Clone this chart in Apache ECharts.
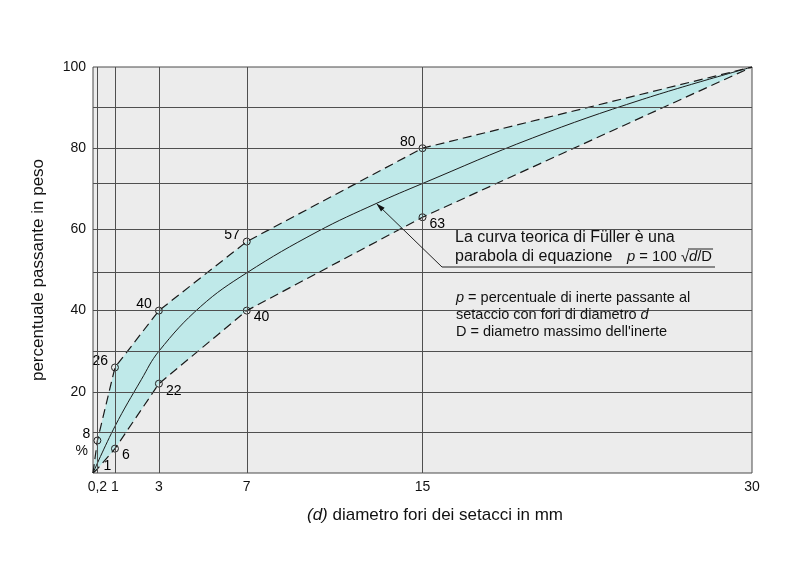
<!DOCTYPE html>
<html><head><meta charset="utf-8">
<script src="https://cdn.jsdelivr.net/npm/echarts@6/dist/echarts.min.js"></script>
<style>html,body{margin:0;background:#fff}#c{width:800px;height:566px}</style>
</head><body><div id="c"></div>
<script>
// ---- data ----
const xTicks = [0.2, 1, 3, 7, 15, 30];
const yTicks = [20, 40, 60, 80, 100];
const gridX = [0.2, 1, 3, 7, 15];
const gridY = [10, 20, 30, 40, 49.4, 60, 71.3, 80, 90];
const upperD = [0, 0.2, 1, 3, 7, 15, 30];
const upperP = [0, 8, 26, 40, 57, 80, 100];
const lowerD = [0, 0.2, 1, 3, 7, 15, 30];
const lowerP = [0, 1, 6, 22, 40, 63, 100];
const fullerD = [0, 1, 2.2, 3, 4.9, 7, 10.2, 12.9, 15, 20, 25, 30];
const fullerP = [0, 11.5, 23, 30, 41, 49.3, 59.4, 66.4, 71.3, 82.5, 92, 100];
const upperMarked = [1, 2, 3, 4, 5];   // indices of upper points with circle markers
const lowerMarked = [2, 3, 4, 5];      // indices of lower points with circle markers
const lowerLabelOnly = [1];            // index of lower point labelled without marker
const arrowTarget = [12.9, 66.4];      // point on Fuller curve where the arrow ends

const FONT = '"Liberation Sans", Arial, sans-serif';
const chart = echarts.init(document.getElementById('c'), null, {renderer: 'canvas'});

const pairs = (xs, ys) => xs.map((x, i) => [x, ys[i]]);
const dashed = {color: '#1a1a1a', width: 1.2, type: [9, 5]};
const lbl = (pos, dist, off) => ({show: true, position: pos, distance: dist, offset: off,
  fontSize: 14, color: '#000', opacity: 1, fontFamily: FONT, textBorderWidth: 0,
  formatter: p => p.value[1]});

chart.setOption({
  animation: false,
  backgroundColor: '#ffffff',
  textStyle: {fontFamily: FONT, color: '#111'},
  grid: {left: 93, right: 48, top: 67, bottom: 93, show: true,
         backgroundColor: '#ececec', borderColor: '#4a4a4a', borderWidth: 1},
  xAxis: {
    type: 'value', min: 0, max: 30,
    axisLine: {show: false}, axisTick: {show: false}, splitLine: {show: false},
    axisLabel: {customValues: xTicks, fontSize: 14, color: '#111', margin: 7,
      fontFamily: FONT, formatter: v => String(v).replace('.', ',')},
    name: '{i|(d)} diametro fori dei setacci in mm',
    nameLocation: 'middle', nameGap: 34,
    nameTextStyle: {fontSize: 17, color: '#111', fontFamily: FONT, padding: [0, 0, 0, 25],
      rich: {i: {fontStyle: 'italic', fontSize: 17, fontFamily: FONT, color: '#111'}}}
  },
  yAxis: {
    type: 'value', min: 0, max: 100,
    axisLine: {show: false}, axisTick: {show: false}, splitLine: {show: false},
    axisLabel: {customValues: yTicks, fontSize: 14, color: '#111', margin: 7, fontFamily: FONT},
    name: 'percentuale passante in peso',
    nameLocation: 'middle', nameGap: 46,
    nameTextStyle: {fontSize: 17, color: '#111', fontFamily: FONT}
  },
  series: [
    {
      type: 'custom', z: 1, silent: true,
      data: [[0, 0]],
      renderItem: (params, api) => {
        if (params.dataIndex !== 0) return;
        const pts = upperD.map((d, i) => api.coord([d, upperP[i]]));
        for (let i = lowerD.length - 1; i >= 0; i--) pts.push(api.coord([lowerD[i], lowerP[i]]));
        return {type: 'polygon', shape: {points: pts}, style: {fill: '#bfe9e9'}};
      }
    },
    {
      type: 'line', z: 2, silent: true, data: [[0, 0]], symbol: 'none',
      lineStyle: {opacity: 0},
      markLine: {
        symbol: 'none', silent: true, label: {show: false},
        lineStyle: {color: '#4f4f4f', width: 1, type: 'solid'},
        data: [...gridX.map(v => ({xAxis: v})), ...gridY.map(v => ({yAxis: v}))]
      }
    },
    {type: 'line', z: 3, data: pairs(upperD, upperP), symbol: 'none', lineStyle: dashed, silent: true},
    {type: 'line', z: 3, data: pairs(lowerD, lowerP), symbol: 'none', lineStyle: dashed, silent: true},
    {type: 'line', z: 3, data: pairs(fullerD, fullerP), symbol: 'none', smooth: 0.4,
     lineStyle: {color: '#1a1a1a', width: 1}, silent: true},
    {
      type: 'scatter', z: 4, silent: true,
      data: upperMarked.map(i => [upperD[i], upperP[i]]),
      symbol: 'circle', symbolSize: 7,
      itemStyle: {color: 'rgba(0,0,0,0)', borderColor: '#222', borderWidth: 1, opacity: 1},
      label: lbl('left', 3, [0, -6])
    },
    {
      type: 'scatter', z: 4, silent: true,
      data: lowerMarked.map(i => [lowerD[i], lowerP[i]]),
      symbol: 'circle', symbolSize: 7,
      itemStyle: {color: 'rgba(0,0,0,0)', borderColor: '#222', borderWidth: 1, opacity: 1},
      label: lbl('right', 3, [0, 7])
    },
    {
      type: 'scatter', z: 4, silent: true,
      data: lowerLabelOnly.map(i => [lowerD[i], lowerP[i]]),
      symbolSize: 0,
      label: lbl('right', 6, [0, -3])
    }
  ]
});

// ---- annotations ----
const tip = chart.convertToPixel({gridIndex: 0}, arrowTarget);
const bend = [442, 267];
const dx = tip[0] - bend[0], dy = tip[1] - bend[1];
const len = Math.hypot(dx, dy), ux = dx / len, uy = dy / len;
const bx = tip[0] - ux * 9, by = tip[1] - uy * 9;
const nx = -uy * 2.6, ny = ux * 2.6;
const pctPos = chart.convertToPixel({gridIndex: 0}, [0, 5.4]);

const mctx = document.createElement('canvas').getContext('2d');
const tw = (t, size, italic) => { mctx.font = (italic ? 'italic ' : '') + size + 'px ' + FONT; return mctx.measureText(t).width; };

const txt = (x, y, text, size, rich, italic) => ({
  type: 'text', x: x, y: y, z: 10, silent: true,
  style: {text: text, fontSize: size, fontFamily: FONT, fill: '#111', fontStyle: italic ? 'italic' : 'normal',
          align: 'left', verticalAlign: 'middle', rich: rich || {}}
});
const ital2 = {i: {fontStyle: 'italic', fontSize: 14.5, fontFamily: FONT, fill: '#111'}};

// formula p = 100 √(d/D), laid out piece by piece
const FS = 14.8;
let fx = 627;
const fEls = [];
fEls.push(txt(fx, 257, 'p', FS, null, true)); fx += tw('p', FS, true);
fEls.push(txt(fx, 257, ' = 100 ', FS)); fx += tw(' = 100 ', FS);
fEls.push(txt(fx, 258, '√', FS)); fx += tw('√', FS);
const ovStart = fx;
fEls.push(txt(fx, 257, 'd', FS, null, true)); fx += tw('d', FS, true);
fEls.push(txt(fx, 257, '/D', FS)); fx += tw('/D', FS);
fEls.push({type: 'line', z: 10, silent: true, shape: {x1: ovStart - 1, y1: 249, x2: fx + 1, y2: 249},
  style: {stroke: '#222', lineWidth: 1}});

chart.setOption({
  graphic: [
    {type: 'polyline', z: 10, silent: true,
     shape: {points: [tip, bend, [715, 267]]},
     style: {stroke: '#222', lineWidth: 1, fill: null}},
    {type: 'polygon', z: 10, silent: true,
     shape: {points: [tip, [bx + nx, by + ny], [bx - nx, by - ny]]},
     style: {fill: '#111'}},
    txt(455, 238, 'La curva teorica di Füller è una', 16),
    txt(455, 257, 'parabola di equazione', 16),
    ...fEls,
    txt(456, 298, '{i|p} = percentuale di inerte passante al', 14.5, ital2),
    txt(456, 315, 'setaccio con fori di diametro {i|d}', 14.5, ital2),
    txt(456, 332, "D = diametro massimo dell'inerte", 14.5),
    {type: 'text', x: pctPos[0] - 5, y: pctPos[1], z: 10, silent: true,
     style: {text: '%', fontSize: 14, fontFamily: FONT, fill: '#111', align: 'right', verticalAlign: 'middle'}}
  ]
});
</script>
</body></html>
